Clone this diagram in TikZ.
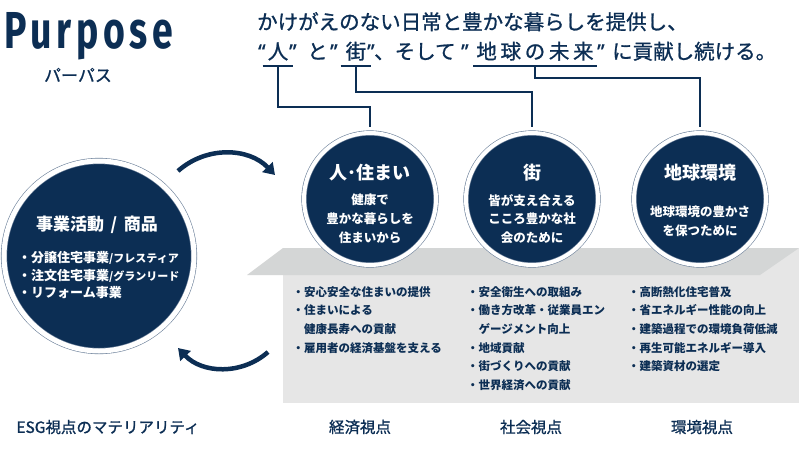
\documentclass[tikz,border=0pt]{standalone}
\usepackage{fontspec}
\setmainfont{Noto Sans CJK JP}
\newfontfamily\jpmedium[FakeBold=1]{Noto Sans CJK JP}
\newfontfamily\latinfont[FakeBold=1]{Noto Sans}
\newfontfamily\purposefont[FakeStretch=0.72,LetterSpace=9]{Fira Sans}
\usepackage{tikz}
\usetikzlibrary{calc,arrows.meta}
\definecolor{navy}{HTML}{0C2E54}
\definecolor{ringblue}{HTML}{6E829B}
\definecolor{plattop}{HTML}{D4D6D6}
\definecolor{platfront}{HTML}{E6E6E6}
\newcommand{\bubbleSize}{132pt}
\newcommand{\jpsize}[2]{\fontsize{#1}{#2}\selectfont}

\begin{document}
\begin{tikzpicture}[x=1pt, y=-1pt,
		bubble/.style={circle, fill=navy, draw=ringblue, line width=0.6pt, double=white, double distance=4pt, minimum size=\bubbleSize, inner sep=0pt},
		bubbletitle/.style={text=white, inner sep=0pt, font=\bfseries\jpsize{18}{22}},
		bubbletext/.style={text=white, inner sep=0pt, align=center, font=\bfseries\jpsize{12.5}{18.8}},
		heading/.style={text=navy, inner sep=0pt, anchor=base west, font=\jpmedium\jpsize{20.5}{24}},
		keyword/.style={heading, anchor=base, inner xsep=5pt, inner ysep=7pt, text depth=0pt},
		bracket/.style={draw=navy, line width=2pt},
		platlist/.style={text=navy, inner sep=0pt, anchor=north west, align=left, font=\bfseries\jpsize{11.5}{18.7}},
		footer/.style={text=navy, inner sep=0pt, font=\jpmedium\jpsize{15.5}{18}},
		cyclearrow/.style={draw=navy, line width=4.5pt, -{Triangle[length=11pt, width=14pt]}}]
	\fill[white] (0,0) rectangle (799,450);
	
	\node[text=navy, inner sep=0pt, anchor=base west, font=\purposefont\bfseries\jpsize{52}{60}] (title) at (4,48) {Purpose};
	\node[text=navy, inner sep=0pt, font=\jpmedium\jpsize{17}{20}] (subtitle) at (78,75) {パーパス};
	
	\node[heading] (line1) at (257,29.5) {かけがえのない日常と豊かな暮らしを提供し、};
	\foreach \px/\word [count=\i] in {258/{\latinfont “}, 289/{\latinfont ”}, 307/と, 330/{\latinfont ”}, 367/{\latinfont ”}, 374/、そして, 461/{\latinfont ”}, 597/{\latinfont ”}, 612/に貢献し続ける。}
		\node[heading] (line2-\i) at (\px,59) {\word};
	\node[keyword] (hito) at (278,59) {人};
	\node[keyword] (machi) at (356,59) {街};
	\node[keyword, inner xsep=3pt] (chikyu) at (535,59) {\addfontfeature{LetterSpace=18}地球の未来};
	
	% platform
	\fill[platfront] (283,248) rectangle (799,403);
	\fill[plattop] (283,248) -- (799,248) -- (760,275) -- (247,275) -- cycle;
	
	\node[bubble] (people) at (370,199) {};
	\node[bubble] (town) at (532,199) {};
	\node[bubble] (earth) at (700,199) {};
	\node[bubble, minimum size=190pt, double distance=5pt] (business) at (99,256) {};
	
	\node[bubbletitle] (peopletitle) at ($(people)+(0,-26)$) {人･住まい};
	\node[bubbletext] (peopletext) at ($(people)+(0,19.5)$) {健康で\\豊かな暮らしを\\住まいから};
	\node[bubbletitle] (towntitle) at ($(town)+(0,-26)$) {街};
	\node[bubbletext] (towntext) at ($(town)+(0,20)$) {皆が支え合える\\こころ豊かな社\\会のために};
	\node[bubbletitle] (earthtitle) at ($(earth)+(0,-26)$) {地球環境};
	\node[bubbletext] (earthtext) at ($(earth)+(0,22)$) {地球環境の豊かさ\\を保つために};
	
	\node[bubbletitle, font=\bfseries\jpsize{17}{20}] (businesstitle) at (97,225) {事業活動 \,/\, 商品};
	\node[text=white, inner sep=0pt, anchor=north west, align=left, font=\bfseries\jpsize{13}{17.5}] (businesslist) at (18,251.5) {・分譲住宅事業{\jpsize{11}{17.5}/フレスティア}\\・注文住宅事業{\jpsize{11}{17.5}/グランリード}\\・リフォーム事業};
	
	\draw[bracket] (hito.south west) -- (hito.south east);
	\draw[bracket] (machi.south west) -- (machi.south east);
	\draw[bracket] (chikyu.south west) -- (chikyu.south east);
	\draw[bracket, shorten >=6pt] (hito.south) -- ++(0,41) -| (people.north);
	\draw[bracket, shorten >=6pt] (machi.south) -- ++(0,26) -| (town.north);
	\draw[bracket, shorten >=6pt] (chikyu.south) -- ++(0,12) -| (earth.north);
	
	\coordinate (fwdstart) at (178,171);
	\coordinate (fwdend) at (275,175);
	\coordinate (backstart) at (268,352);
	\coordinate (backend) at (178,348);
	\draw[cyclearrow] (fwdstart) to[bend left=44] (fwdend);
	\draw[cyclearrow] (backstart) to[bend left=44] (backend);
	
	\node[platlist] (ecolist) at (292.5,286) {・安心安全な住まいの提供\\・住まいによる\\\hphantom{・}健康長寿への貢献\\・雇用者の経済基盤を支える};
	\node[platlist] (soclist) at (467,286) {・安全衛生への取組み\\・働き方改革・従業員エン\\\hphantom{・}ゲージメント向上\\・地域貢献\\・街づくりへの貢献\\・世界経済への貢献};
	\node[platlist] (envlist) at (628,286) {・高断熱化住宅普及\\・省エネルギー性能の向上\\・建築過程での環境負荷低減\\・再生可能エネルギー導入\\・建築資材の選定};
	
	\node[footer] (esg) at (108,427) {ESG視点のマテリアリティ};
	\node[footer] (eco) at (360,427) {経済視点};
	\node[footer] (soc) at (531,427) {社会視点};
	\node[footer] (env) at (702,427) {環境視点};
\end{tikzpicture}
\end{document}
